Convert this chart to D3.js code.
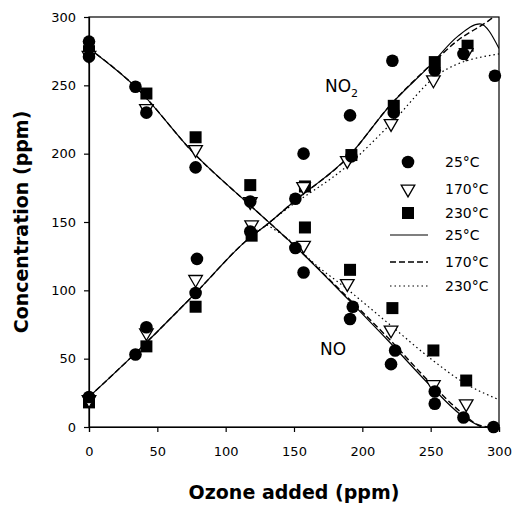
<!DOCTYPE html>
<html><head><meta charset="utf-8">
<script src="https://cdn.jsdelivr.net/npm/d3@7"></script>
<style>body{margin:0;background:#fff}</style>
</head><body><svg id="c" width="515" height="510"></svg>
<script>
// ---- data ----
const xTicks = [0, 50, 100, 150, 200, 250, 300];
const yTicks = [0, 50, 100, 150, 200, 250, 300];
// measured NO
const no25  = [[0,282],[0,271],[34,249],[42,230],[78,190],[118,165],[151,131],[157,113],[193,88],[191,79],[224,56],[221,46],[253,26],[253,17],[274,7],[296,0]];
const no170 = [[0,272],[42,233],[78,203],[118,165],[157,133],[189,105],[221,71],[252,31],[276,17]];
const no230 = [[0,275],[42,244],[78,212],[118,177],[158,146],[191,115],[222,87],[252,56],[276,34]];
// measured NO2
const no2_25  = [[0,22],[34,53],[42,73],[79,123],[78,98],[118,143],[151,167],[157,200],[191,228],[192,198],[222,268],[223,230],[253,261],[274,273],[297,257]];
const no2_170 = [[0,20],[42,69],[78,108],[119,148],[157,176],[189,195],[221,222],[252,254],[276,274]];
const no2_230 = [[0,18],[42,59],[78,88],[119,140],[158,176],[192,199],[223,235],[253,267],[277,279]];
// model curves
const fitNO25   = [[0,277],[35,248],[77,200],[117,163],[150,133],[190,93],[220,62],[250,30],[272,9],[287,0]];
const fitNO170  = [[0,277],[35,248],[77,200],[117,163],[150,133],[190,94],[220,64],[250,32],[272,11],[284,2],[292,0]];
const fitNO230  = [[130,148],[150,134],[160,124],[190,100],[220,75],[250,50],[275,32],[300,20]];
const fitNO2_25  = [[0,22],[35,55],[77,97],[117,138],[130,148],[150,165],[190,198],[220,235],[250,265],[270,286],[286,295],[300,277]];
const fitNO2_170 = [[0,22],[35,55],[77,97],[117,138],[130,148],[150,165],[190,198],[220,235],[250,265],[270,283],[292,297],[300,303]];
const fitNO2_230 = [[130,148],[140,156],[190,192],[220,221],[257,259],[300,273]];
const legendLabels = ["25°C","170°C","230°C"];

// ---- chart ----
const svg = d3.select("#c");
const L = 89, R = 499, T = 17, B = 427;
const x = d3.scaleLinear().domain([0,300]).range([L,R]);
const y = d3.scaleLinear().domain([0,300]).range([B,T]);
const font = "DejaVu Sans, Verdana, sans-serif";

svg.append("defs").append("clipPath").attr("id","clip")
  .append("rect").attr("x",L).attr("y",T).attr("width",R-L).attr("height",B-T);

// frame
svg.append("rect").attr("x",L).attr("y",T).attr("width",R-L).attr("height",B-T)
  .attr("fill","none").attr("stroke","#000").attr("stroke-width",1.2);

const xa = svg.append("g").attr("transform",`translate(0,${B})`)
  .call(d3.axisBottom(x).tickValues(xTicks).tickSize(5).tickPadding(15));
const ya = svg.append("g").attr("transform",`translate(${L},0)`)
  .call(d3.axisLeft(y).tickValues(yTicks).tickSize(5).tickPadding(8));
[xa,ya].forEach(a=>{
  a.selectAll("text").attr("font-family",font).attr("font-size",13).attr("fill","#000");
  a.selectAll("line,path").attr("stroke","#000").attr("stroke-width",1.2);
});

// curves
const line = d3.line().x(d=>x(d[0])).y(d=>y(d[1])).curve(d3.curveMonotoneX);
const g = svg.append("g").attr("clip-path","url(#clip)");
function curve(data, dash, w){
  g.append("path").attr("d",line(data)).attr("fill","none").attr("stroke","#000")
   .attr("stroke-width",w).attr("stroke-dasharray",dash);
}
curve(fitNO25,null,1.2); curve(fitNO2_25,null,1.2);
curve(fitNO170,"6,3",1.4); curve(fitNO2_170,"6,3",1.4);
curve(fitNO230,"1.5,3",1.2); curve(fitNO2_230,"1.5,3",1.2);

// markers
function circles(data){
  svg.append("g").selectAll("circle").data(data).join("circle")
    .attr("cx",d=>x(d[0])).attr("cy",d=>y(d[1])).attr("r",6.3).attr("fill","#000");
}
function squares(data){
  svg.append("g").selectAll("rect").data(data).join("rect")
    .attr("x",d=>x(d[0])-6).attr("y",d=>y(d[1])-6).attr("width",12).attr("height",12).attr("fill","#000");
}
const tri = d3.symbol().type(d3.symbolTriangle).size(80);
function triangles(data){
  svg.append("g").selectAll("path").data(data).join("path")
    .attr("d",tri).attr("transform",d=>`translate(${x(d[0])},${y(d[1])}) rotate(180)`)
    .attr("fill","#fff").attr("stroke","#000").attr("stroke-width",1.3);
}
squares(no230); squares(no2_230);
triangles(no170); triangles(no2_170);
circles(no25); circles(no2_25);

// labels
const no2t = svg.append("text").attr("x",325).attr("y",92).attr("font-family",font).attr("font-size",17);
no2t.append("tspan").text("NO");
no2t.append("tspan").attr("font-size",11).attr("dy",5).text("2");
svg.append("text").attr("x",320).attr("y",355).attr("font-family",font).attr("font-size",17).text("NO");

// legend
const lx = 408, tx = 445;
const lgy = [162,189,213];
svg.append("circle").attr("cx",lx).attr("cy",lgy[0]).attr("r",6.3);
svg.append("path").attr("d",tri).attr("transform",`translate(${lx},${lgy[1]}) rotate(180)`)
  .attr("fill","#fff").attr("stroke","#000").attr("stroke-width",1.3);
svg.append("rect").attr("x",lx-6).attr("y",lgy[2]-6).attr("width",12).attr("height",12);
const lly = [235,262,286];
const dashes = [null,"6,3","1.5,3"];
lly.forEach((yy,i)=>{
  svg.append("line").attr("x1",390).attr("x2",428).attr("y1",yy).attr("y2",yy)
    .attr("stroke","#000").attr("stroke-width",i==1?1.6:1.2).attr("stroke-dasharray",dashes[i]);
});
lgy.concat(lly).forEach((yy,i)=>{
  svg.append("text").attr("x",tx).attr("y",yy+5).attr("font-family",font).attr("font-size",14)
    .text(legendLabels[i%3]);
});

// axis titles
svg.append("text").attr("x",294).attr("y",499).attr("text-anchor","middle")
  .attr("font-family",font).attr("font-weight","bold").attr("font-size",19).text("Ozone added (ppm)");
svg.append("text").attr("transform",`translate(28,${(T+B)/2}) rotate(-90)`).attr("text-anchor","middle")
  .attr("font-family",font).attr("font-weight","bold").attr("font-size",19).text("Concentration (ppm)");
</script></body></html>
